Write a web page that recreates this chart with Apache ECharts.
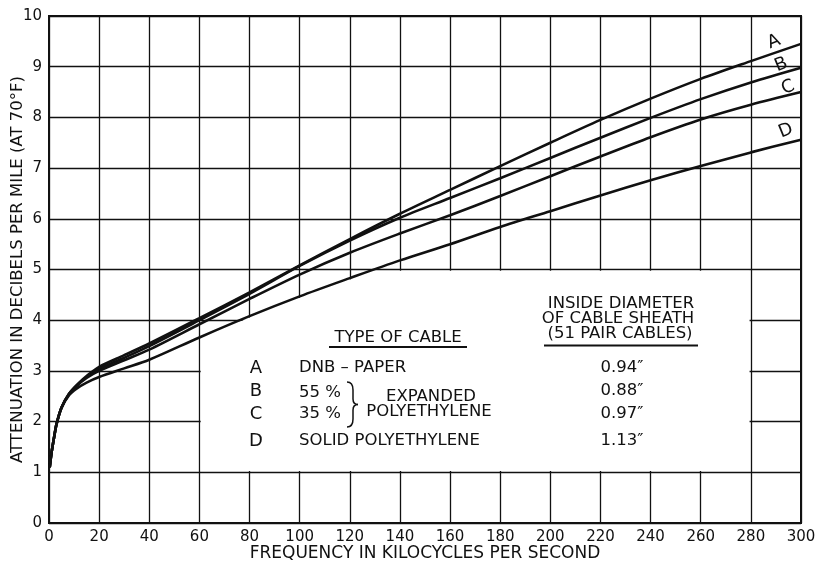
<!DOCTYPE html>
<html><head><meta charset="utf-8">
<script src="https://cdn.jsdelivr.net/npm/echarts@6/dist/echarts.min.js"></script>
<style>html,body{margin:0;padding:0;background:#fff}#c{width:819px;height:562px}</style>
</head><body><div id="c"></div>
<script>
// ---- data ----
const freq   = [0.3, 1, 2, 3, 5, 8, 11, 15, 20, 30, 40, 60, 80, 100, 120, 140, 160, 180, 200, 220, 240, 260, 280, 300];
const cableA = [1.1, 1.38, 1.68, 1.95, 2.28, 2.55, 2.72, 2.9, 3.08, 3.31, 3.54, 4.04, 4.55, 5.08, 5.6, 6.1, 6.57, 7.04, 7.5, 7.95, 8.37, 8.76, 9.11, 9.45];
const cableB = [1.1, 1.38, 1.68, 1.95, 2.28, 2.55, 2.71, 2.88, 3.04, 3.26, 3.49, 4.0, 4.52, 5.07, 5.57, 6.02, 6.41, 6.8, 7.2, 7.6, 7.99, 8.36, 8.69, 8.98];
const cableC = [1.1, 1.38, 1.68, 1.95, 2.28, 2.54, 2.7, 2.86, 3.0, 3.21, 3.42, 3.92, 4.42, 4.9, 5.33, 5.71, 6.07, 6.45, 6.84, 7.23, 7.61, 7.96, 8.25, 8.5];
const cableD = [1.1, 1.38, 1.68, 1.95, 2.27, 2.52, 2.65, 2.77, 2.88, 3.05, 3.22, 3.66, 4.08, 4.47, 4.83, 5.18, 5.5, 5.84, 6.15, 6.46, 6.76, 7.04, 7.31, 7.56];
const seriesNames = ['A', 'B', 'C', 'D'];
const cableTypes = ['DNB – PAPER', '55 %', '35 %', 'SOLID POLYETHYLENE'];
const expandedLabel = ['EXPANDED', 'POLYETHYLENE'];
const diameters = ['0.94″', '0.88″', '0.97″', '1.13″'];
const headType = 'TYPE OF CABLE';
const headDiam = ['INSIDE DIAMETER', 'OF CABLE SHEATH', '(51 PAIR CABLES)'];
const xTitle = 'FREQUENCY IN KILOCYCLES PER SECOND';
const yTitle = 'ATTENUATION IN DECIBELS PER MILE (AT 70°F)';
const boxX = [60, 280];   // blank legend panel (data units)
const boxY = [1, 5];

const FONT = 'DejaVu Sans';
const INK = '#111';
const chart = echarts.init(document.getElementById('c'), null, {renderer: 'canvas'});

const curves = [cableA, cableB, cableC, cableD];
const labelOffsets = [[-38, -15], [-31, -13], [-24, -12], [-25, -17]];

const lineSeries = curves.map((vals, k) => ({
  name: seriesNames[k],
  type: 'line',
  z: 5,
  data: freq.map((f, i) => [f, vals[i]]),
  showSymbol: false,
  smooth: 0.3,
  lineStyle: {color: INK, width: 2.6},
  endLabel: {
    show: true,
    formatter: () => seriesNames[k],
    offset: labelOffsets[k],
    rotate: 22,
    color: INK,
    fontFamily: FONT,
    fontSize: 18
  },
  emphasis: {disabled: true},
  animation: false
}));

const maskSeries = {
  type: 'custom',
  z: 3,
  silent: true,
  animation: false,
  data: [[boxX[0], boxY[0]]],
  renderItem: function (params, api) {
    const l = api.coord([boxX[0], boxY[0]]);
    const r = api.coord([boxX[1], boxY[0]]);
    const pts = [];
    for (let i = 0; i < freq.length; i++) {
      if (freq[i] < boxX[0] || freq[i] > boxX[1]) continue;
      const p = api.coord([freq[i], Math.min(boxY[1], cableD[i])]);
      pts.push([Math.min(Math.max(p[0], l[0] + 1.3), r[0] - 1.3), p[1] + 1.3]);
    }
    pts.push([r[0] - 1.3, r[1] - 1.3]);
    pts.push([l[0] + 1.3, l[1] - 1.3]);
    return {type: 'polygon', shape: {points: pts}, style: {fill: '#fff', stroke: null}};
  }
};

const g = [];
const TS = 16.5;
function txt(x, y, text, align, size) {
  g.push({type: 'text', x: x, y: y, z: 10, style: {text: text, fill: INK, font: (size || TS) + 'px "' + FONT + '"', align: align || 'left', verticalAlign: 'middle'}});
}
function ln(x1, y1, x2, y2, w) {
  g.push({type: 'line', z: 10, shape: {x1: x1, y1: y1, x2: x2, y2: y2}, style: {stroke: INK, lineWidth: w || 1.5}});
}
function bz(x1, y1, cx, cy, x2, y2) {
  g.push({type: 'bezierCurve', z: 10, shape: {x1: x1, y1: y1, cpx1: cx, cpy1: cy, x2: x2, y2: y2}, style: {stroke: INK, lineWidth: 1.5, fill: null}});
}
txt(398, 337.5, headType, 'center');
ln(329, 347, 467, 347, 2);
txt(621, 304, headDiam[0], 'center');
txt(618, 319, headDiam[1], 'center');
txt(620, 334, headDiam[2], 'center');
ln(544, 345.5, 698, 345.5, 2);
const rowY = [368, 391, 414, 441];
rowY.forEach((y, i) => {
  txt(256, y, seriesNames[i], 'center', 18);
  txt(299, y + (i === 1 ? 2 : 0), cableTypes[i], 'left');
  txt(622, y, diameters[i], 'center');
});
txt(431, 397, expandedLabel[0], 'center');
txt(429, 412, expandedLabel[1], 'center');
// brace
bz(347, 382, 353, 382, 353, 390);
ln(353, 390, 353, 399);
bz(353, 399, 353, 404.5, 358, 404.5);
bz(358, 404.5, 353, 404.5, 353, 410);
ln(353, 410, 353, 419);
bz(353, 419, 353, 427, 347, 427);

chart.setOption({
  backgroundColor: '#fff',
  animation: false,
  grid: {left: 49, right: 18, top: 16, bottom: 39, outerBoundsMode: 'none', containLabel: false, show: true, borderColor: INK, borderWidth: 2, backgroundColor: 'transparent'},
  xAxis: {
    type: 'value', min: 0, max: 300, interval: 20,
    name: xTitle, nameLocation: 'middle', nameGap: 22, nameMoveOverlap: false,
    nameTextStyle: {color: INK, fontFamily: FONT, fontSize: 17},
    axisLine: {show: true, lineStyle: {color: INK, width: 2}},
    axisTick: {show: false},
    axisLabel: {color: INK, fontFamily: FONT, fontSize: 15, margin: 7},
    splitLine: {show: true, lineStyle: {color: INK, width: 1.3}}
  },
  yAxis: {
    type: 'value', min: 0, max: 10, interval: 1,
    name: yTitle, nameLocation: 'middle', nameGap: 23, nameMoveOverlap: false,
    nameTextStyle: {color: INK, fontFamily: FONT, fontSize: 16.5},
    axisLine: {show: true, lineStyle: {color: INK, width: 2}},
    axisTick: {show: false},
    axisLabel: {color: INK, fontFamily: FONT, fontSize: 15, margin: 7},
    splitLine: {show: true, lineStyle: {color: INK, width: 1.3}}
  },
  graphic: g,
  series: [maskSeries].concat(lineSeries)
});
</script></body></html>
